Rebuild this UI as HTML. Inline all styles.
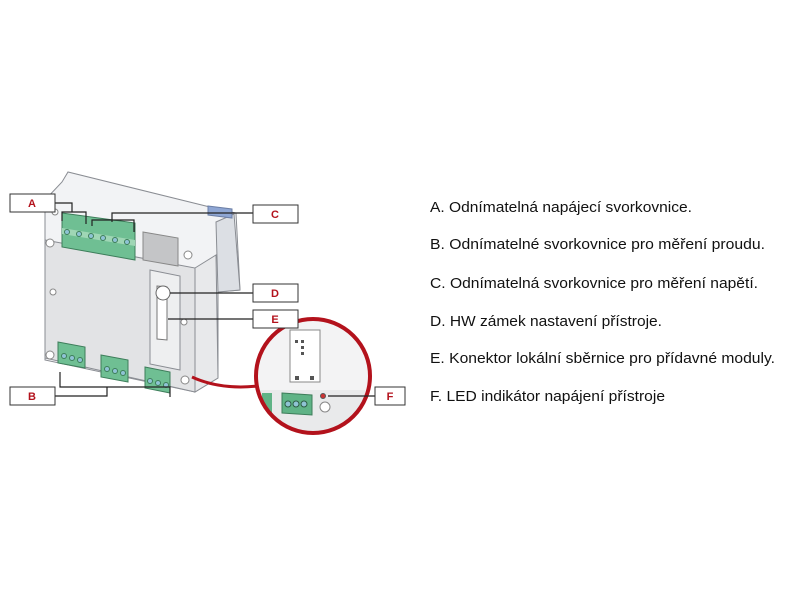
<!DOCTYPE html>
<html><head><meta charset="utf-8"><style>
html,body{margin:0;padding:0;background:#fff;}
svg{display:block;}
text{font-family:"Liberation Sans",sans-serif;}
</style></head><body>
<svg width="800" height="600" viewBox="0 0 800 600" xmlns="http://www.w3.org/2000/svg">
<!-- back silhouette -->
<polygon points="45,200 62,182 68,172 222,210 236,213 240,290 218,292 218,378 195,392 45,360" fill="#f2f3f5" stroke="#8a8d93"/>
<polygon points="216,222 234,214 240,290 218,292" fill="#dcdfe4" stroke="#8a8d93"/>
<polygon points="208,206 232,209 232,218 208,215" fill="#8ea6d4" stroke="#6c7fa6"/>
<polygon points="195,268 216,255 218,378 195,392" fill="#e8e9eb" stroke="#8a8d93"/>
<!-- main face -->
<polygon points="45,240 195,268 195,392 45,358" fill="#e2e3e5" stroke="#8a8d93"/>
<polygon points="150,270 180,276 180,370 150,364" fill="#eeeff0" stroke="#8a8d93"/>
<polygon points="157,286 167,287 167,340 157,339" fill="#fff" stroke="#777"/>
<circle cx="163" cy="293" r="7" fill="#fff" stroke="#666"/>
<!-- gray box -->
<polygon points="143,232 178,238 178,266 143,260" fill="#c4c5c7" stroke="#888"/>
<!-- top terminals -->
<polygon points="62,213 135,223 135,260 62,247" fill="#6fbf93" stroke="#3d7d5a"/>
<polygon points="62,228 135,240 135,246 62,234" fill="#9fd6b5"/>
<g fill="#8fc3d4" stroke="#3d7d5a"><circle cx="67" cy="232" r="2.5"/><circle cx="79" cy="234" r="2.5"/><circle cx="91" cy="236" r="2.5"/><circle cx="103" cy="238" r="2.5"/><circle cx="115" cy="240" r="2.5"/><circle cx="127" cy="242" r="2.5"/></g>
<!-- bottom terminals -->
<g fill="#6fbf93" stroke="#3d7d5a">
<polygon points="58,342 85,347 85,368 58,363"/>
<polygon points="101,355 128,360 128,382 101,377"/>
<polygon points="145,367 170,372 170,393 145,388"/>
</g>
<g fill="#8fc3d4" stroke="#3d7d5a">
<circle cx="64" cy="356" r="2.5"/><circle cx="72" cy="358" r="2.5"/><circle cx="80" cy="360" r="2.5"/>
<circle cx="107" cy="369" r="2.5"/><circle cx="115" cy="371" r="2.5"/><circle cx="123" cy="373" r="2.5"/>
<circle cx="150" cy="381" r="2.5"/><circle cx="158" cy="383" r="2.5"/><circle cx="166" cy="385" r="2.5"/>
</g>
<!-- screws -->
<g fill="#fff" stroke="#888"><circle cx="50" cy="243" r="4"/><circle cx="188" cy="255" r="4"/><circle cx="50" cy="355" r="4"/><circle cx="185" cy="380" r="4"/><circle cx="53" cy="292" r="3"/><circle cx="184" cy="322" r="3"/><circle cx="55" cy="212" r="3"/></g>
<!-- zoom circle -->
<circle cx="313" cy="376" r="57" fill="#f3f3f4"/>
<clipPath id="cc"><circle cx="313" cy="376" r="57"/></clipPath>
<g clip-path="url(#cc)">
<rect x="290" y="330" width="30" height="52" fill="#fff" stroke="#888"/>
<g fill="#555"><rect x="295" y="340" width="3" height="3"/><rect x="301" y="340" width="3" height="3"/><rect x="301" y="346" width="3" height="3"/><rect x="301" y="352" width="3" height="3"/><rect x="295" y="376" width="4" height="4"/><rect x="310" y="376" width="4" height="4"/></g>
<rect x="255" y="390" width="110" height="50" fill="#e9eaeb"/>
<polygon points="282,393 312,395 312,415 282,413" fill="#5fb386" stroke="#3d7d5a"/>
<g fill="#8fc3d4" stroke="#2d5d44"><circle cx="288" cy="404" r="3"/><circle cx="296" cy="404" r="3"/><circle cx="304" cy="404" r="3"/></g>
<circle cx="325" cy="407" r="5" fill="#fff" stroke="#888"/>
<circle cx="323" cy="396" r="2.5" fill="#c33" stroke="#555"/>
<rect x="262" y="393" width="10" height="20" fill="#5fb386"/>
</g>
<circle cx="313" cy="376" r="57" fill="none" stroke="#b3121c" stroke-width="4"/>
<path d="M192,377 Q220,390 258,386" fill="none" stroke="#b3121c" stroke-width="3"/>
<!-- leader lines -->
<g fill="none" stroke="#222" stroke-width="1.2">
<path d="M55,203 H72 V212"/><path d="M62,221 V212 H86 V224"/>
<path d="M253,213 H112 V222"/><path d="M92,226 V220 H134 V232"/>
<path d="M55,396 H107 V387"/><path d="M60,372 V387 H170 V397"/>
<path d="M253,293 H170"/><path d="M253,319 H168"/>
<path d="M375,396 H328"/>
</g>
<!-- label boxes -->
<g fill="#fff" stroke="#333" stroke-width="1">
<rect x="10" y="194" width="45" height="18"/>
<rect x="253" y="205" width="45" height="18"/>
<rect x="253" y="284" width="45" height="18"/>
<rect x="253" y="310" width="45" height="18"/>
<rect x="10" y="387" width="45" height="18"/>
<rect x="375" y="387" width="30" height="18"/>
</g>
<g fill="#b3121c" font-size="11" font-weight="bold" text-anchor="middle">
<text x="32" y="207">A</text><text x="275" y="218">C</text><text x="275" y="297">D</text>
<text x="275" y="323">E</text><text x="32" y="400">B</text><text x="390" y="400">F</text>
</g>
<!-- description text -->
<g fill="#111" font-size="15">
<text x="430" y="212" textLength="262" lengthAdjust="spacingAndGlyphs">A. Odnímatelná napájecí svorkovnice.</text>
<text x="430" y="249" textLength="335" lengthAdjust="spacingAndGlyphs">B. Odnímatelné svorkovnice pro měření proudu.</text>
<text x="430" y="288" textLength="328" lengthAdjust="spacingAndGlyphs">C. Odnímatelná svorkovnice pro měření napětí.</text>
<text x="430" y="326" textLength="232" lengthAdjust="spacingAndGlyphs">D. HW zámek nastavení přístroje.</text>
<text x="430" y="363" textLength="345" lengthAdjust="spacingAndGlyphs">E. Konektor lokální sběrnice pro přídavné moduly.</text>
<text x="430" y="401" textLength="235" lengthAdjust="spacingAndGlyphs">F. LED indikátor napájení přístroje</text>
</g>
</svg>
</body></html>
